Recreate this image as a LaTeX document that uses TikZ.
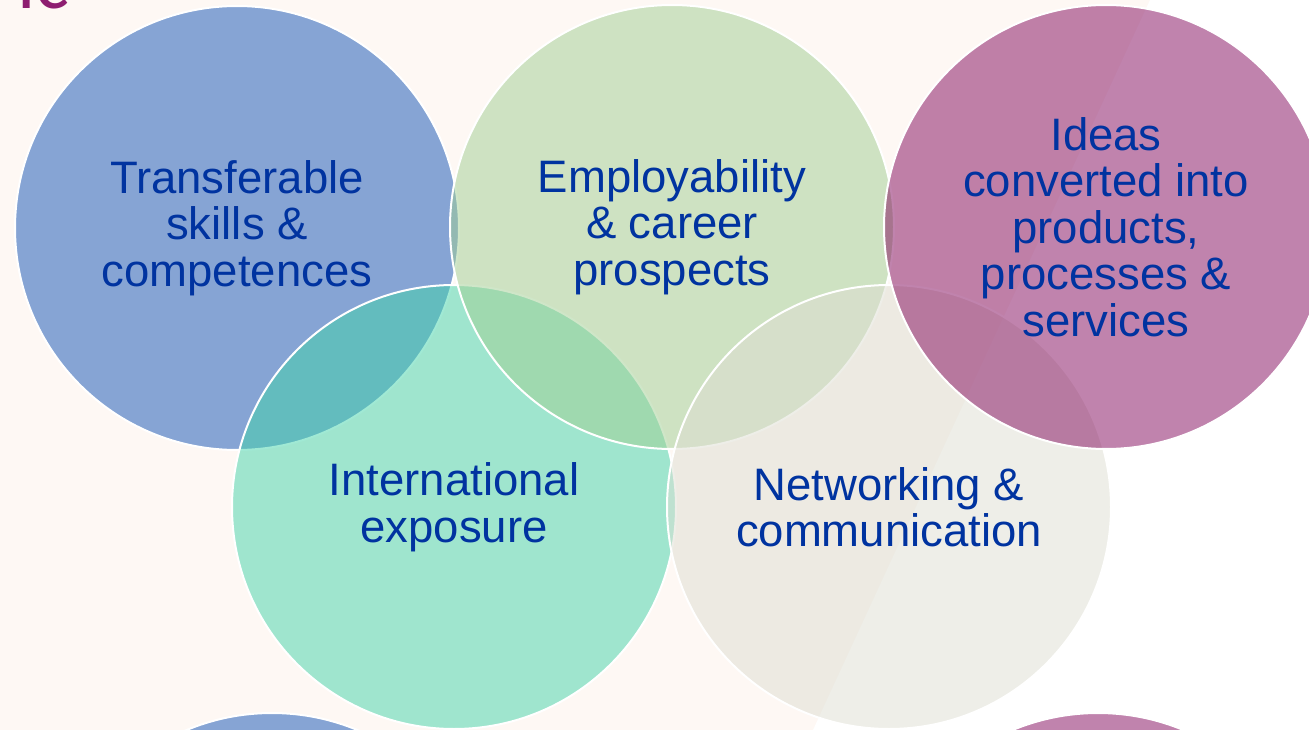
\documentclass[tikz,border=0pt]{standalone}
\usepackage{fontspec}
\setmainfont{Liberation Sans}
\newfontfamily\titlefont{Carlito}
\usetikzlibrary{positioning}

\definecolor{pagebg}{RGB}{254,248,244}
\definecolor{bubbleblue}{RGB}{16,82,182}
\definecolor{bubblegreen}{RGB}{160,206,146}
\definecolor{bubblepurple}{RGB}{130,8,92}
\definecolor{bubbleteal}{RGB}{66,212,170}
\definecolor{bubblebeige}{RGB}{222,222,210}
\definecolor{labelblue}{RGB}{0,51,160}
\definecolor{titlepurple}{RGB}{142,30,112}

\begin{document}
\begin{tikzpicture}[x=1pt,y=-1pt,
  bubble/.style={circle,draw=white,line width=2pt,minimum size=444pt,inner sep=0pt,
    fill opacity=0.5,text opacity=1,text=labelblue,align=center,
    font=\fontsize{45.5}{46.5}\selectfont}]

    % Background
    \useasboundingbox (0,0) rectangle (1309,730);
    \clip (0,0) rectangle (1309,730);
    \fill[pagebg] (0,0) rectangle (1309,730);
    \fill[white] (1150,0) -- (1309,0) -- (1309,730) -- (813,730) -- cycle;

    % Title
    \node [anchor=base east,inner sep=0pt,text=titlepurple,font=\titlefont\fontsize{80}{80}\selectfont] at (70,9) (title) {ic};

    % The bubbles
    \node [bubble,fill=bubbleblue] at (237,228) (skills) {Transferable\\skills \&\\competences};
    \node [bubble,fill=bubbleteal] at (454,507) (intl) {International\\exposure};
    \node [bubble,fill=bubblegreen] at (672,227) (career) {Employability\\\& career\\prospects};
    \node [bubble,fill=bubblebeige] at (889,507) (network) {Networking \&\\communication};
    \node [bubble,fill=bubblepurple] at (1106,227) (ideas) {Ideas\\converted into\\products,\\processes \&\\services};

    % Next row, cut off
    \node [bubble,fill=bubbleblue] at (272,935) (moreleft) {};
    \node [bubble,fill=bubblepurple] at (1098,935) (moreright) {};

\end{tikzpicture}
\end{document}
